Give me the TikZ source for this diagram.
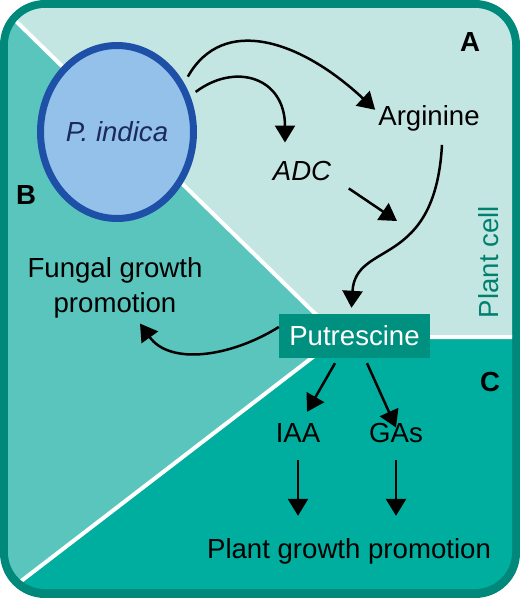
\documentclass[tikz,border=0pt]{standalone}
\usepackage{fontspec}
\setmainfont{Liberation Sans}
\usetikzlibrary{arrows.meta,positioning,shapes.geometric}
\definecolor{frame}{HTML}{00897B}
\definecolor{cellA}{HTML}{C3E6E3}
\definecolor{cellB}{HTML}{5AC5BD}
\definecolor{cellC}{HTML}{00AE9F}
\definecolor{putbox}{HTML}{00907F}
\definecolor{fungus}{HTML}{93C1EA}
\definecolor{fungusline}{HTML}{1F50A8}
\definecolor{navy}{HTML}{1B2A5C}
\definecolor{celltext}{HTML}{00806F}
\newcommand\labelsize{\fontsize{27.6}{35}\selectfont}
\begin{document}
\begin{tikzpicture}[x=1pt,y=-1pt]
      \tikzstyle{lbl}=[font=\labelsize,inner sep=3pt,anchor=base]
      \tikzstyle{tag}=[font=\labelsize\bfseries,inner sep=0pt]
      \tikzstyle{putrect}=[fill=putbox,text=white,font=\labelsize,minimum width=151pt,minimum height=44pt,inner sep=0pt]
      \tikzstyle{arr}=[line width=2.5pt,-{Triangle[length=17pt,width=20pt]}]
      \useasboundingbox (0,0) rectangle (520,598);
      \fill[frame,rounded corners=45pt] (0,0) rectangle (520,598);
      \begin{scope}
        \clip[rounded corners=37pt] (8,8) rectangle (512,589);
        \fill[cellC] (0,0) rectangle (520,598);
        \fill[cellA] (0,5.5) -- (339,337) -- (520,337) -- (520,0) -- (0,0) -- cycle;
        \fill[cellB] (0,5.5) -- (339,337) -- (0,597.3) -- cycle;
        \draw[white,line width=4pt] (0,5.5) -- (339,337) -- (0,597.3) (339,337) -- (520,337);
      \end{scope}

      \node[ellipse,draw=fungusline,fill=fungus,line width=7pt,minimum width=153pt,minimum height=173pt,inner sep=0pt,outer sep=10pt,font=\labelsize\itshape,text=navy] (pind) at (117,132) {P. indica};
      \node[lbl] (arg) at (429,125) {Arginine};
      \node[lbl,font=\labelsize\itshape] (adc) at (302,180) {ADC};
      \coordinate (adcend) at (397,221);
      \node[putrect] (put) at (354.5,336) {Putrescine};
      \node[lbl,anchor=center,align=center] (fung) at (115,288) {Fungal growth\\promotion};
      \node[lbl] (iaa) at (298,442) {IAA};
      \node[lbl] (gas) at (396,442) {GAs};
      \node[lbl] (pgp) at (349,558) {Plant growth promotion};
      \node[lbl,anchor=center,rotate=90,text=celltext] (pc) at (489,262) {Plant cell};
      \node[tag] (tA) at (470,42) {A};
      \node[tag] (tB) at (26,195) {B};
      \node[tag] (tC) at (490,382) {C};

      \draw[arr] (pind.38) .. controls +(35,-62) and +(-75,-70) .. ([yshift=-8]arg.north west);
      \draw[arr] (pind.27) .. controls +(40,-30) and +(0,-65) .. ([shift={(-17,-15)}]adc.north);
      \draw[arr] ([shift={(14.5,5)}]adc.south east) -- (adcend);
      \draw[arr] ([shift={(13,11)}]arg.south) .. controls +(-7,125) and +(4,-68) .. ([shift={(-3,-6)}]put.north);
      \draw[arr] ([yshift=9]put.west) .. controls +(-48,30) and +(30,42) .. ([shift={(25,2)}]fung.south);
      \draw[arr] ([shift={(-19.5,5)}]put.south) -- ([shift={(9,-8)}]iaa.north);
      \draw[arr] ([shift={(12.5,5)}]put.south) -- ([yshift=-8]gas.north);
      \draw[arr,shorten <=15pt,shorten >=19pt] (iaa.south) -- (iaa.south |- pgp.north);
      \draw[arr,shorten <=15pt,shorten >=19pt] (gas.south) -- (gas.south |- pgp.north);
    \end{tikzpicture}
\end{document}
